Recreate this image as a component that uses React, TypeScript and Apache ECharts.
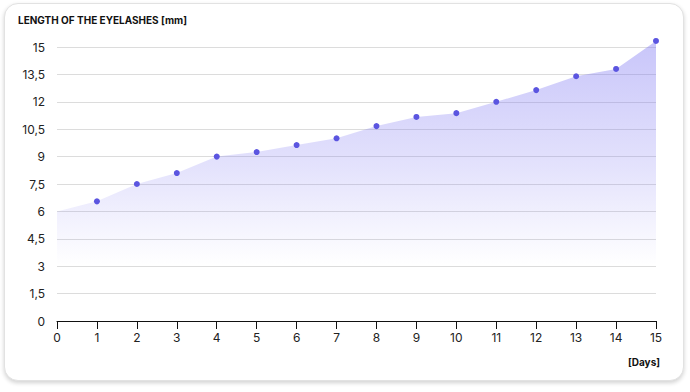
import React, { useEffect, useRef } from "react";
import * as echarts from "echarts";

const days = [0, 1, 2, 3, 4, 5, 6, 7, 8, 9, 10, 11, 12, 13, 14, 15];
const lengthMm = [6.0, 6.55, 7.5, 8.1, 9.0, 9.25, 9.63, 10.0, 10.67, 11.17, 11.38, 12.0, 12.64, 13.4, 13.8, 15.33];
const yTicks = [0, 1.5, 3, 4.5, 6, 7.5, 9, 10.5, 12, 13.5, 15];

const FONT = "Inter, 'Noto Sans', sans-serif";

export default function App() {
  const ref = useRef<HTMLDivElement>(null);
  useEffect(() => {
    if (!ref.current) return;
    const chart = echarts.init(ref.current, undefined, { renderer: "svg" });
    chart.setOption({
      animation: false,
      textStyle: { fontFamily: FONT },
      grid: { left: 57, right: 34, top: 47, bottom: 71, containLabel: false },
      xAxis: {
        type: "value",
        min: 0,
        max: 15,
        interval: 1,
        axisLine: { show: true, lineStyle: { color: "#111", width: 1 } },
        axisTick: { show: true, length: 8, lineStyle: { color: "#111" } },
        axisLabel: { color: "#222", fontSize: 12, margin: 10, fontFamily: FONT },
        splitLine: { show: false },
      },
      yAxis: {
        type: "value",
        min: 0,
        max: 15,
        interval: 1.5,
        axisLine: { show: false },
        axisTick: { show: false },
        axisLabel: {
          color: "#222",
          fontSize: 12,
          margin: 12,
          fontFamily: FONT,
          formatter: (v: number) => (yTicks.includes(v) ? String(v).replace(".", ",") : ""),
        },
        splitLine: { show: true, lineStyle: { color: "#dcdcdc", width: 1 } },
      },
      series: [
        {
          type: "line",
          clip: false,
          data: days.map((d, i) =>
            i === 0 ? { value: [d, lengthMm[i]], symbol: "none" } : [d, lengthMm[i]]
          ),
          symbol: "circle",
          symbolSize: 6,
          itemStyle: { color: "#5b55e0" },
          lineStyle: { width: 0, color: "rgba(0,0,0,0)" },
          areaStyle: {
            color: new echarts.graphic.LinearGradient(0, 0, 0, 1, [
              { offset: 0, color: "rgba(125,118,242,0.6)" },
              { offset: 0.45, color: "rgba(125,118,242,0.3)" },
              { offset: 0.8, color: "rgba(125,118,242,0.0)" },
              { offset: 1, color: "rgba(125,118,242,0.0)" },
            ]),
          },
          z: 3,
        },
      ],
      graphic: [
        {
          type: "text",
          left: 18,
          top: 15,
          style: { text: "LENGTH OF THE EYELASHES [mm]", fontSize: 10, fontWeight: 700, fill: "#111", fontFamily: FONT },
        },
        {
          type: "text",
          right: 30,
          top: 357,
          style: { text: "[Days]", fontSize: 10, fontWeight: 700, fill: "#111", fontFamily: FONT },
        },
      ],
    });
    return () => chart.dispose();
  }, []);

  return (
    <div style={{ position: "fixed", left: 0, top: 0, width: 690, height: 392, background: "#fff" }}>
      <div
        style={{
          position: "absolute",
          left: 4,
          top: 3,
          width: 680,
          height: 378,
          borderRadius: 14,
          border: "1px solid #e2e2e2",
          boxShadow: "0 2px 4px rgba(0,0,0,0.18)",
          background: "#fff",
          boxSizing: "border-box",
        }}
      />
      <div ref={ref} style={{ position: "absolute", left: 0, top: 0, width: 690, height: 392 }} />
    </div>
  );
}
